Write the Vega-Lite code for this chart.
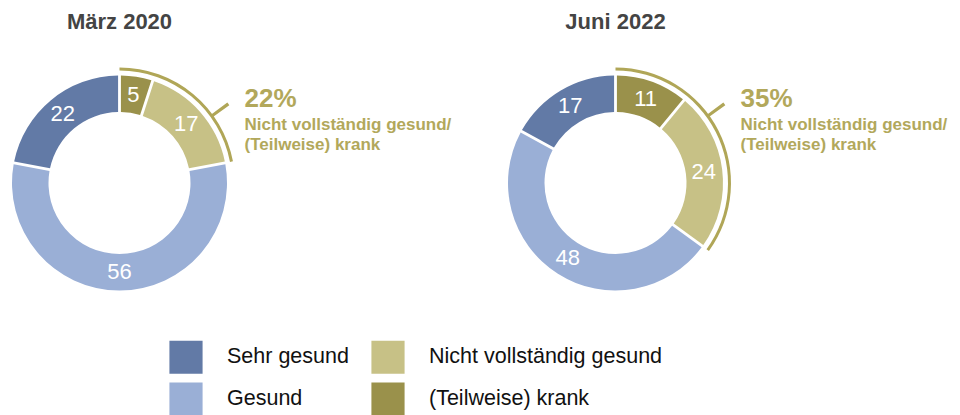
{
  "$schema": "https://vega.github.io/schema/vega-lite/v6.json",
  "background": "white",
  "padding": {"left": 0, "top": 11, "right": 0, "bottom": 0},
  "autosize": {"type": "pad"},
  "bounds": "flush",
  "config": {"view": {"stroke": null}, "font": "Liberation Sans"},
  "data": {"values": [
    {"typ": "segment", "Zeitpunkt": "März 2020", "Kategorie": "(Teilweise) krank", "Wert": 5, "Reihenfolge": 1},
    {"typ": "segment", "Zeitpunkt": "März 2020", "Kategorie": "Nicht vollständig gesund", "Wert": 17, "Reihenfolge": 2},
    {"typ": "segment", "Zeitpunkt": "März 2020", "Kategorie": "Gesund", "Wert": 56, "Reihenfolge": 3},
    {"typ": "segment", "Zeitpunkt": "März 2020", "Kategorie": "Sehr gesund", "Wert": 22, "Reihenfolge": 4},
    {"typ": "segment", "Zeitpunkt": "Juni 2022", "Kategorie": "(Teilweise) krank", "Wert": 11, "Reihenfolge": 1},
    {"typ": "segment", "Zeitpunkt": "Juni 2022", "Kategorie": "Nicht vollständig gesund", "Wert": 24, "Reihenfolge": 2},
    {"typ": "segment", "Zeitpunkt": "Juni 2022", "Kategorie": "Gesund", "Wert": 48, "Reihenfolge": 3},
    {"typ": "segment", "Zeitpunkt": "Juni 2022", "Kategorie": "Sehr gesund", "Wert": 17, "Reihenfolge": 4},
    {"typ": "summe", "Zeitpunkt": "März 2020", "anteil": 22, "label": "22%", "beschreibung": "Nicht vollständig gesund/\n(Teilweise) krank"},
    {"typ": "summe", "Zeitpunkt": "Juni 2022", "anteil": 35, "label": "35%", "beschreibung": "Nicht vollständig gesund/\n(Teilweise) krank"}
  ]},
  "facet": {
    "column": {
      "field": "Zeitpunkt", "type": "nominal", "sort": ["März 2020", "Juni 2022"],
      "header": {"title": null, "labelFontSize": 22, "labelFontWeight": "bold", "labelColor": "#444444", "labelFont": "Liberation Sans", "labelPadding": 29}
    }
  },
  "spacing": 257,
  "spec": {
    "width": 239,
    "height": 240,
    "layer": [
      {
        "transform": [{"filter": {"field": "typ", "equal": "segment"}}],
        "mark": {"type": "arc", "innerRadius": 71, "outerRadius": 107.5, "padAngle": 0.022},
        "encoding": {
          "theta": {"field": "Wert", "type": "quantitative", "stack": true, "scale": {"domain": [0, 100]}},
          "order": {"field": "Reihenfolge", "type": "quantitative"},
          "color": {
            "field": "Kategorie", "type": "nominal",
            "scale": {"domain": ["Sehr gesund", "Gesund", "Nicht vollständig gesund", "(Teilweise) krank"], "range": ["#627AA6", "#9AAFD6", "#C7C186", "#9A914B"]},
            "legend": {
              "title": null, "orient": "none", "legendX": 169, "legendY": 277, "columns": 2,
              "symbolType": "square", "symbolSize": 1100, "symbolStrokeWidth": 0, "symbolOpacity": 1,
              "labelFontSize": 21.5, "labelFont": "Liberation Sans", "labelColor": "#111111", "labelLimit": 400,
              "labelOffset": 24, "rowPadding": 8, "columnPadding": 22
            }
          }
        }
      },
      {
        "transform": [{"filter": {"field": "typ", "equal": "segment"}}],
        "mark": {"type": "text", "radius": 89, "fontSize": 22, "color": "white", "align": "center", "baseline": "middle"},
        "encoding": {
          "theta": {"field": "Wert", "type": "quantitative", "stack": true},
          "order": {"field": "Reihenfolge", "type": "quantitative"},
          "text": {"field": "Wert", "type": "quantitative"}
        }
      },
      {
        "transform": [{"filter": {"field": "typ", "equal": "summe"}}],
        "mark": {"type": "arc", "innerRadius": 112.5, "outerRadius": 115.5, "color": "#B0A657"},
        "encoding": {
          "theta": {"field": "anteil", "type": "quantitative"},
          "theta2": {"datum": 0}
        }
      },
      {
        "transform": [{"filter": {"field": "typ", "equal": "summe"}}],
        "mark": {"type": "arc", "innerRadius": 114, "outerRadius": 134.5, "color": "#B0A657"},
        "encoding": {
          "theta": {"datum": 14.8, "type": "quantitative"},
          "theta2": {"datum": 15.2}
        }
      },
      {
        "transform": [{"filter": {"field": "typ", "equal": "summe"}}],
        "mark": {"type": "text", "align": "left", "baseline": "alphabetic", "dx": 125, "dy": -76, "fontSize": 26, "fontWeight": "bold", "color": "#B2A85B"},
        "encoding": {"text": {"field": "label", "type": "nominal"}}
      },
      {
        "transform": [{"filter": {"field": "typ", "equal": "summe"}}],
        "mark": {"type": "text", "align": "left", "baseline": "alphabetic", "dx": 125, "dy": -53, "fontSize": 17, "fontWeight": "bold", "color": "#B2A85B", "lineBreak": "\n", "lineHeight": 20},
        "encoding": {"text": {"field": "beschreibung", "type": "nominal"}}
      }
    ]
  }
}
